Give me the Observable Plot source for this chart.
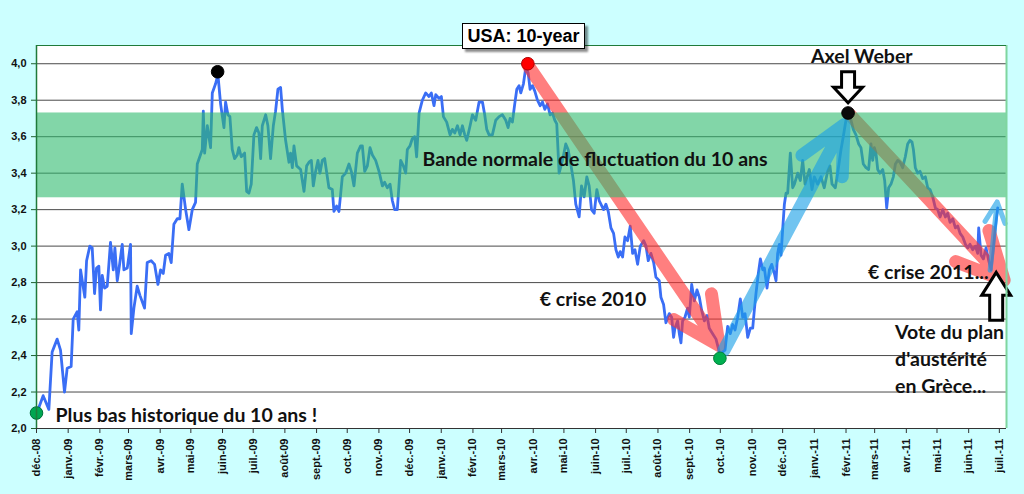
<!DOCTYPE html>
<html><head><meta charset="utf-8">
<script src="https://cdn.jsdelivr.net/npm/d3@7"></script>
<script src="https://cdn.jsdelivr.net/npm/@observablehq/plot@0.6"></script>
<style>
html,body{margin:0;padding:0;background:#ccffff;}
#wrap{position:relative;width:1024px;height:494px;overflow:hidden;background:#ccffff;}
#title{position:absolute;left:462px;top:23px;width:121px;height:24px;background:#fff;border:1px solid #000;box-shadow:3px 3px 2px rgba(0,0,0,0.45);font:bold 18px "Liberation Sans",Arial,sans-serif;text-align:center;line-height:24px;color:#000;}
</style></head><body>
<div id="wrap"><div id="chart"></div><div id="title">USA: 10-year</div></div>
<script>
// days since 18 Dec 2008, and 10-year yield (%)
const days = [0,6.5,12.1,15.3,20.2,23.5,27.4,30,33.9,35.9,39.8,41.4,43.1,47.3,49,52.2,54.5,56.8,58.7,61,62.6,64.3,66.6,69.2,72.4,75.1,76.7,79,80.6,83.9,85.5,88.8,92,92.7,95.3,98.5,101.2,105.7,108.3,112.2,115.5,118.8,121.4,124,126.3,129.5,131.8,134.4,137.7,140.3,142.6,145.9,149.1,152.4,155.6,157.3,162.2,163.2,164.5,167.1,170.3,172,175.2,177.5,180.1,
183.4,185,187.3,189.2,191.5,193.8,196.4,198,200.3,203.6,205.6,207.8,210.1,212.7,215.3,217.6,219.3,220.9,224.2,226.4,229,231.7,233.9,236.2,238.8,240.5,243.7,247,248.6,250.3,251.9,254.5,258.4,261.7,264.3,266.6,268.9,270.8,273.1,275.4,277.3,279.6,281.9,284.5,286.1,289.4,291,293.6,295.9,299.2,302.5,305.7,308,310.6,313.9,317.1,318.8,321.1,323.7,326.3,328.6,331.8,335.1,338.4,340.6,343.3,345.9,348.1,350.4,353,356.3,358.9,361.2,362.8,365.4,367.7,370,371.9,374.3,377.5,
380.8,384,386.3,388.9,390.6,393.8,396.1,398.1,401.3,404.6,406.9,409.2,411.8,414.4,416.7,419,420.9,424.2,426.5,429.7,433,436.3,438.5,440.5,442.8,446,449.3,452.6,455.8,459.1,461.4,463.3,465.6,467.9,469.9,472.1,473.8,476.4,478.7,481,482.9,485.2,487.5,490.1,492.7,495,497.3,499.9,502.5,504.8,507.1,509,511.3,514.6,517.8,520.1,522.7,525.3,527.6,530.9,533.2,535.8,538.4,540.7,543,545.6,548.2,550.5,
554.8,557.1,559.4,562,564.6,566.9,569.2,571.1,573.4,575.7,578.3,580.9,583.2,585.5,588.1,590.7,594,596.3,598.5,601.1,603.8,606,609.3,610.9,613.5,615.8,619.1,621.4,623.3,624.6,627.2,628.9,630.5,632.1,634.4,637,638.7,641,643.6,646.2,648.5,650.7,653.4,656,658.2,661.5,664.8,668,669,671.3,673.6,676.2,678.8,681.1,683.4,686,688.6,690.9,693.2,695.8,698.4,700.7,702.3,703.9,706.2,708.2,710.5,712.1,714.7,717,719.3,721.9,723.5,725.1,726.8,728.4,730,731.7,733.3,734.9,737.5,739.8,741.5,744.7,747.3,749.6,751.9,
756.1,758.7,761,764.2,767.5,770.7,774,776.3,778.3,781.5,783.8,787.1,789.3,791.3,792.6,794.6,796.9,799.1,801.7,804.4,806.6,808.9,811.5,814.1,816.4,818.1,819.7,821.3,823,825.2,827.9,829.8,831.8,833.7,836,838.3,840.3,842.5,844.8,847.4,850,852.3,854.6,856.6,857.9,859.8,862.1,864.4,867,869.6,871.9,874.2,876.8,879.4,881.7,884,886.6,889.2,891.5,893.8,896.4,899,901.3,903.6,906.2,908.8,911.1,913.3,916,918.6,920.8,921.8,924.1,926.4,929,931.6,933.9,936.2,938.1,940.4];

const yields = [2.08,2.18,2.105,2.42,2.49,2.43,2.20,2.33,2.34,2.60,2.64,2.54,2.87,2.72,2.92,3.00,2.99,2.74,2.88,2.89,2.65,2.84,2.77,2.78,3.02,2.87,2.99,2.81,2.87,3.01,2.87,2.88,3.01,2.52,2.66,2.78,2.73,2.66,2.91,2.92,2.90,2.79,2.87,2.85,2.95,2.96,2.91,3.12,3.15,3.15,3.34,3.20,3.09,3.20,3.24,3.45,3.53,3.74,3.51,3.66,3.54,3.84,3.89,3.94,3.78,
3.65,3.79,3.72,3.71,3.53,3.48,3.50,3.54,3.49,3.51,3.30,3.29,3.34,3.61,3.65,3.62,3.48,3.66,3.72,3.66,3.48,3.66,3.74,3.86,3.87,3.75,3.58,3.46,3.51,3.43,3.55,3.44,3.42,3.30,3.44,3.46,3.47,3.33,3.41,3.47,3.40,3.47,3.48,3.38,3.32,3.31,3.19,3.22,3.19,3.38,3.40,3.45,3.41,3.33,3.51,3.55,3.55,3.41,3.44,3.54,3.50,3.47,3.41,3.33,3.35,3.32,3.34,3.25,3.20,3.20,3.47,3.44,3.40,3.53,3.55,3.59,3.60,3.49,3.73,3.80,
3.84,3.82,3.84,3.77,3.83,3.81,3.82,3.71,3.68,3.61,3.64,3.62,3.66,3.61,3.66,3.61,3.58,3.66,3.72,3.69,3.79,3.79,3.72,3.64,3.61,3.61,3.69,3.71,3.72,3.69,3.65,3.70,3.68,3.78,3.86,3.88,3.84,3.89,3.98,3.95,3.86,3.88,3.85,3.80,3.77,3.79,3.75,3.78,3.72,3.73,3.69,3.67,3.40,3.47,3.56,3.53,3.45,3.36,3.23,3.16,3.33,3.27,3.38,3.33,3.20,3.18,3.31,3.25,
3.20,3.23,3.19,3.10,3.07,2.98,2.94,2.97,2.94,3.05,3.03,3.11,2.96,2.98,2.90,3.00,3.03,3.00,2.92,2.96,2.91,2.83,2.81,2.72,2.68,2.58,2.63,2.61,2.50,2.55,2.59,2.52,2.47,2.59,2.61,2.66,2.61,2.79,2.70,2.76,2.72,2.65,2.59,2.62,2.55,2.52,2.49,2.42,2.39,2.42,2.43,2.56,2.52,2.57,2.54,2.61,2.71,2.61,2.63,2.50,2.55,2.55,2.65,2.74,2.85,2.93,2.87,2.88,2.77,2.87,2.90,2.85,2.81,2.96,3.01,2.95,3.09,3.23,3.29,3.29,3.51,3.32,3.34,3.40,3.36,3.47,3.34,
3.42,3.31,3.38,3.34,3.38,3.32,3.41,3.44,3.34,3.32,3.40,3.53,3.60,3.67,3.71,3.74,3.69,3.64,3.61,3.56,3.54,3.45,3.43,3.42,3.56,3.47,3.54,3.51,3.42,3.40,3.42,3.36,3.21,3.32,3.34,3.38,3.45,3.47,3.46,3.43,3.49,3.56,3.58,3.57,3.53,3.43,3.40,3.41,3.37,3.38,3.32,3.31,3.27,3.21,3.20,3.16,3.20,3.16,3.18,3.13,3.15,3.10,3.11,3.07,3.05,3.01,2.99,3.01,2.98,3.00,2.96,3.10,2.95,2.93,2.99,2.92,2.87,2.99,3.10,3.21];

const xTickLabels = ["déc.-08","janv.-09","févr.-09","mars-09","avr.-09","mai-09","juin-09","juil.-09","août-09","sept.-09","oct.-09","nov.-09","déc.-09","janv.-10","févr.-10","mars-10","avr.-10","mai-10","juin-10","juil.-10","août-10","sept.-10","oct.-10","nov.-10","déc.-10","janv.-11","févr.-11","mars-11","avr.-11","mai-11","juin-11","juil.-11"];
const yTicks = [2.0,2.2,2.4,2.6,2.8,3.0,3.2,3.4,3.6,3.8,4.0];

// normal fluctuation band
const band = [{low: 3.265, high: 3.73}];

// key points (day, value, color)
const keyPoints = [
  {day: 0, value: 2.085, fill: "#00a651", stroke: "#00703a"},
  {day: 177.2, value: 3.956, fill: "#000000", stroke: "#000000"},
  {day: 480.7, value: 4.0, fill: "#ff0000", stroke: "#b00000"},
  {day: 668.6, value: 2.385, fill: "#00b050", stroke: "#00803a"},
  {day: 794, value: 3.73, fill: "#0a0a0a", stroke: "#000000"}
];

const redArrows = [
  {d1: 481.7, v1: 3.984, d2: 667.7, v2: 2.456},
  {d1: 795, v1: 3.725, d2: 946.7, v2: 2.813}
];
const blueArrowBig = [
  {d1: 672.6, v1: 2.43, d2: 790.1, v2: 3.665}
];
const blueArrowSmall = [
  {d1: 933, v1: 2.868, d2: 939.8, v2: 3.242}
];

const annotations = [
  {day: 18.6, value: 2.082, text: "Plus bas historique du 10 ans !"},
  {day: 377.6, value: 3.484, text: "Bande normale de fluctuation du 10 ans"},
  {day: 492.4, value: 2.72, text: "€ crise 2010"},
  {day: 757.7, value: 4.049, text: "Axel Weber"},
  {day: 813.5, value: 2.868, text: "€ crise 2011..."},
  {day: 840, value: 2.39, text: "Vote du plan\nd'austérité\nen Grèce..."}
];

const blockArrows = [
  {day: 794, value: 3.956, rotate: 180, length: 31},
  {day: 938.9, value: 2.593, rotate: 0, length: 48}
];

const start = new Date(Date.UTC(2008, 11, 18));
const end = new Date(Date.UTC(2011, 6, 25));
const toDate = d => new Date(+start + d * 864e5);
const series = days.map((d, i) => ({date: toDate(d), value: yields[i]}));
const tickDates = xTickLabels.map((_, i) => d3.utcMonth.offset(start, i));
const labelFor = d => xTickLabels[tickDates.findIndex(t => +t === +d)];

const blockShape = {
  draw(ctx, l) {
    const sw = 6.5, hw = 14.5, hl = Math.min(l * 0.5, 23);
    ctx.moveTo(-sw, 0);
    ctx.lineTo(-sw, -(l - hl));
    ctx.lineTo(-hw, -(l - hl));
    ctx.lineTo(0, -l);
    ctx.lineTo(hw, -(l - hl));
    ctx.lineTo(sw, -(l - hl));
    ctx.lineTo(sw, 0);
    ctx.closePath();
  }
};

const arrowOpts = (color, width, head) => ({
  x1: d => toDate(d.d1), y1: "v1", x2: d => toDate(d.d2), y2: "v2",
  stroke: color, strokeWidth: width, strokeOpacity: 0.62, headLength: head, headAngle: 52,
  strokeLinecap: "round", strokeLinejoin: "round"
});

const chart = Plot.plot({
  width: 1024, height: 494,
  marginLeft: 36, marginRight: 18, marginTop: 45, marginBottom: 66,
  style: {background: "transparent", fontFamily: "'Liberation Sans', Arial, sans-serif", overflow: "visible"},
  x: {type: "utc", domain: [start, end]},
  y: {domain: [2, 4.1]},
  color: {type: "identity"},
  length: {type: "identity"},
  marks: [
    Plot.frame({fill: "white", stroke: "none"}),
    Plot.ruleY(yTicks, {stroke: "#4a4a4a", strokeWidth: 1}),
    Plot.line(series, {x: "date", y: "value", stroke: "#3a6ef5", strokeWidth: 2.8, strokeLinejoin: "round"}),
    Plot.arrow(redArrows, arrowOpts("#ff3030", 13, 6.0)),
    Plot.rect(band, {y1: "low", y2: "high", fill: "#2fbb6e", fillOpacity: 0.6}),
    Plot.arrow(blueArrowBig, arrowOpts("#1aa0e6", 13, 6.0)),
    Plot.arrow(blueArrowSmall, arrowOpts("#1aa0e6", 5, 8)),
    Plot.dot(keyPoints, {x: d => toDate(d.day), y: "value", r: 6.3, fill: "fill", stroke: "stroke", strokeWidth: 1}),
    Plot.text(annotations, {x: d => toDate(d.day), y: "value", text: "text", textAnchor: "start",
      fontFamily: "Lato", fontWeight: "bold", fontSize: 19.5, fill: "#111", lineHeight: 1.37}),
    Plot.vector(blockArrows, {x: d => toDate(d.day), y: "value", rotate: "rotate", length: "length", anchor: "start",
      shape: blockShape, fill: "white", stroke: "black", strokeWidth: 3, strokeLinejoin: "miter"}),
    Plot.axisY({ticks: yTicks, tickFormat: d => d.toFixed(1).replace(".", ","), tickSize: 5, tickPadding: 5,
      fontSize: 11, fontWeight: "bold", fill: "#111", stroke: "#1f5f2f", label: null}),
    Plot.axisX({ticks: tickDates, tickFormat: labelFor, tickRotate: -90, tickSize: 5, tickPadding: 5,
      fontSize: 11, fontWeight: "bold", fill: "#111", stroke: "#333", label: null}),
    Plot.ruleX([start], {stroke: "#1f7a3a", strokeWidth: 1.5}),
    Plot.ruleX([end], {stroke: "#7fd6a0", strokeWidth: 2}),
    Plot.ruleY([4.1], {stroke: "#1f7a3a", strokeWidth: 1.2}),
    Plot.ruleY([2], {stroke: "#333", strokeWidth: 1.2})
  ]
});
document.getElementById("chart").appendChild(chart);
</script>
</body></html>
